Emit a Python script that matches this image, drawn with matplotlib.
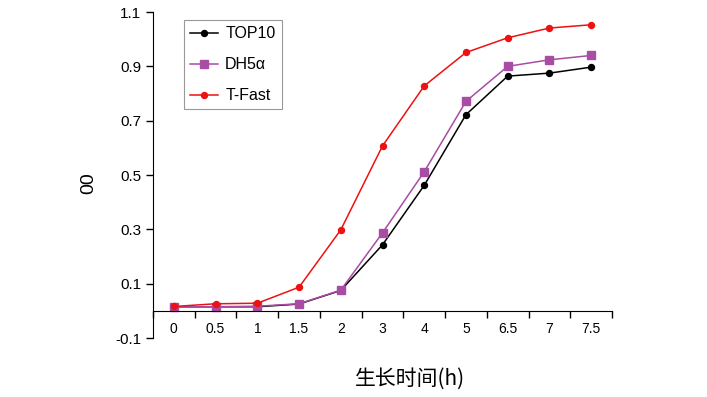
import matplotlib
matplotlib.use("Agg")
import matplotlib.pyplot as plt

plt.rcParams["font.family"] = ["Liberation Sans", "Noto Sans CJK SC", "DejaVu Sans"]

hours = ["0", "0.5", "1", "1.5", "2", "3", "4", "5", "6.5", "7", "7.5"]
top10 = [0.015, 0.015, 0.015, 0.025, 0.075, 0.243, 0.462, 0.722, 0.864, 0.875, 0.897]
dh5a = [0.015, 0.015, 0.017, 0.026, 0.076, 0.287, 0.512, 0.771, 0.900, 0.924, 0.940]
tfast = [0.016, 0.026, 0.028, 0.087, 0.298, 0.607, 0.828, 0.951, 1.005, 1.041, 1.053]
yticks = [-0.1, 0.1, 0.3, 0.5, 0.7, 0.9, 1.1]

fig = plt.figure(figsize=(7.07, 3.97), dpi=100)
ax = fig.add_axes([153 / 707, 1 - 338 / 397, 459 / 707, 326 / 397])

x = list(range(len(hours)))
ax.plot(x, top10, color="black", marker="o", markersize=4.3, linewidth=1.1, label="TOP10")
ax.plot(x, dh5a, color="#a94ca4", marker="s", markersize=5.8, linewidth=1.1, label="DH5α")
ax.plot(x, tfast, color="#ee1111", marker="o", markersize=4.3, linewidth=1.1, label="T-Fast")

ax.set_xlim(-0.5, len(hours) - 0.5)
ax.set_ylim(-0.1, 1.1)
ax.set_yticks(yticks)
ax.set_yticklabels([f"{v:g}" for v in yticks], fontsize=11)

# category labels between boundary ticks, Excel style
ax.set_xticks([i - 0.5 for i in range(len(hours) + 1)])
ax.set_xticklabels([])
ax.set_xticks(x, minor=True)
ax.set_xticklabels(hours, minor=True, fontsize=11)
ax.tick_params(axis="x", which="minor", length=0, pad=8)
ax.tick_params(axis="x", which="major", length=5, direction="out", width=1)
ax.tick_params(axis="y", length=5, direction="out", width=1)

ax.spines["top"].set_visible(False)
ax.spines["right"].set_visible(False)
ax.spines["bottom"].set_position(("data", 0))

ax.set_ylabel("00", fontsize=14)
ax.yaxis.set_label_coords(-0.122, 0.475)
fig.text(410 / 707, 1 - 379 / 397, "生长时间(h)", fontsize=15, ha="center", va="center",
         family=["Noto Sans CJK SC", "DejaVu Sans"])

leg = ax.legend(loc="upper left", bbox_to_anchor=(0.0675, 0.975), borderaxespad=0,
                fancybox=False, edgecolor="#808080", fontsize=11.5, handlelength=1.75,
                handletextpad=0.45, labelspacing=1.0, borderpad=0.38)
leg.get_frame().set_linewidth(0.8)

fig.savefig("out.png", dpi=100)
